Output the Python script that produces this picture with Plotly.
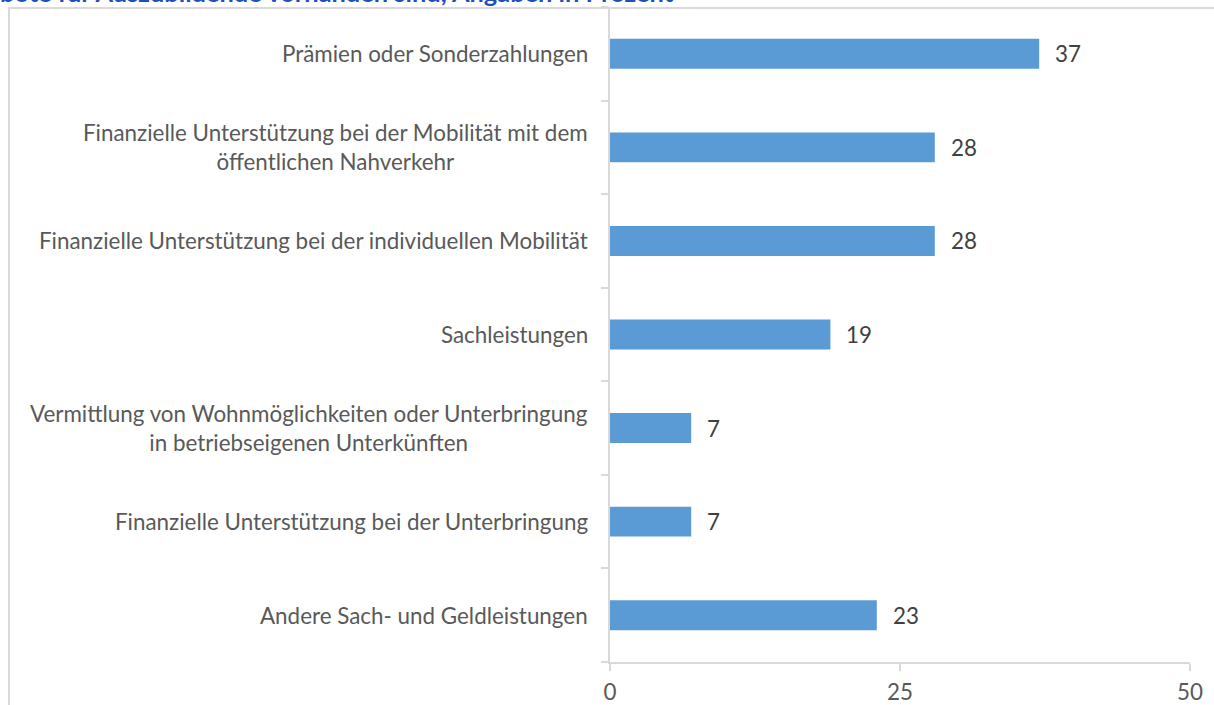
import plotly.graph_objects as go

categories = [
    "Prämien oder Sonderzahlungen",
    "Finanzielle Unterstützung bei der Mobilität mit dem<br>öffentlichen Nahverkehr",
    "Finanzielle Unterstützung bei der individuellen Mobilität",
    "Sachleistungen",
    "Vermittlung von Wohnmöglichkeiten oder Unterbringung<br>in betriebseigenen Unterkünften",
    "Finanzielle Unterstützung bei der Unterbringung",
    "Andere Sach- und Geldleistungen",
]
values = [37, 28, 28, 19, 7, 7, 23]
x_ticks = [0, 25, 50]
title_text = "bote für Auszubildende vorhanden sind, Angaben in Prozent"

W, H = 1214, 705
L, R, T, B = 610, 24, 7, 43
PW, PH = W - L - R, H - T - B

def px_x(p):
    return (p - L) / PW

def px_y(p):
    return (H - B - p) / PH

FONT = "Lato"
FS = 22.4
GREY = "#D9D9D9"

fig = go.Figure()
fig.add_trace(go.Bar(
    y=list(range(len(categories))),
    x=values,
    orientation="h",
    marker=dict(color="#5B9BD5", line=dict(width=0)),
    width=0.32,
    hoverinfo="skip",
))

annotations = []
for i, (c, v) in enumerate(zip(categories, values)):
    annotations.append(dict(
        x=px_x(L - 20), xref="paper", y=i, yref="y",
        text=c, showarrow=False, xanchor="right", yanchor="middle", align="center",
        font=dict(family=FONT, size=FS, color="#595959"),
    ))
    annotations.append(dict(
        x=v, xref="x", y=i, yref="y", text=str(v), showarrow=False,
        xanchor="left", yanchor="middle", xshift=14,
        font=dict(family=FONT, size=FS, color="#404040"),
    ))
annotations.append(dict(
    x=px_x(-2), xref="paper", y=px_y(-8), yref="paper", text="<b>" + title_text + "</b>",
    showarrow=False, xanchor="left", yanchor="middle",
    font=dict(family=FONT, size=25.4, color="#1F4FBF"),
))

shapes = [
    dict(type="line", xref="paper", yref="paper", x0=px_x(8), x1=px_x(1220), y0=px_y(8), y1=px_y(8),
         line=dict(color=GREY, width=2)),
    dict(type="line", xref="paper", yref="paper", x0=px_x(9), x1=px_x(9), y0=px_y(8), y1=px_y(710),
         line=dict(color=GREY, width=2)),
]

fig.update_layout(
    width=W, height=H,
    margin=dict(l=L, r=R, t=T, b=B, autoexpand=False),
    paper_bgcolor="white", plot_bgcolor="white",
    showlegend=False,
    annotations=annotations,
    shapes=shapes,
    xaxis=dict(
        range=[0, 50], tickvals=x_ticks, ticktext=[str(t) for t in x_ticks],
        showgrid=False, zeroline=False, showline=True, linecolor=GREY, linewidth=2,
        ticks="outside", ticklen=7, tickcolor=GREY, tickwidth=2,
        ticklabelstandoff=2, automargin=False,
        tickfont=dict(family=FONT, size=FS, color="#595959"),
    ),
    yaxis=dict(
        range=[len(categories) - 0.5, -0.5],
        tickvals=[i + 0.5 for i in range(-1, len(categories))],
        ticktext=[""] * (len(categories) + 1),
        showgrid=False, zeroline=False, showline=True, linecolor=GREY, linewidth=2,
        ticks="outside", ticklen=7, tickcolor=GREY, tickwidth=2,
        automargin=False,
    ),
)

fig.write_html("out.html", config={"displayModeBar": False},
               post_script="document.body.style.margin='0';")
